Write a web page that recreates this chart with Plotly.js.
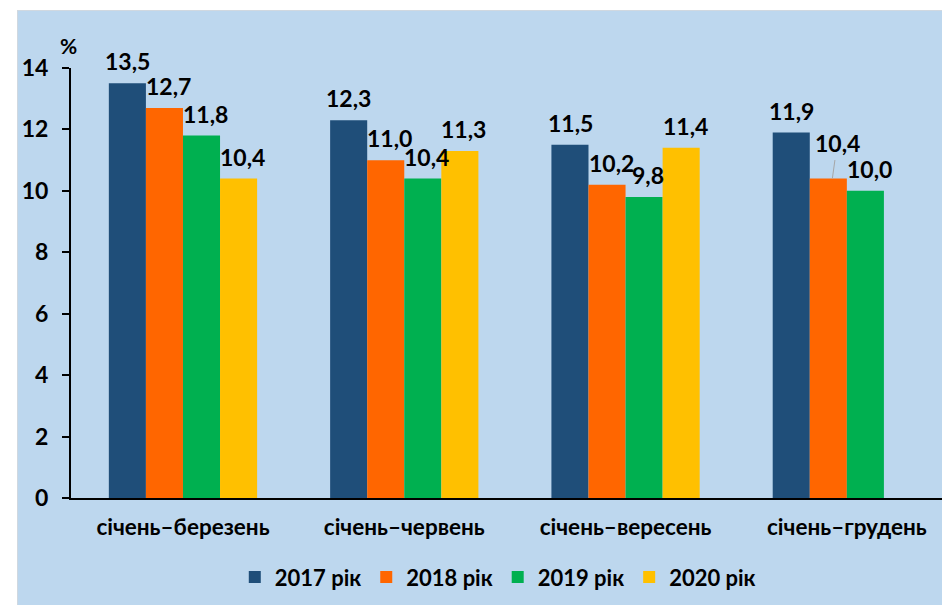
<!DOCTYPE html>
<html><head><meta charset="utf-8">
<script src="https://cdn.plot.ly/plotly-3.0.1.min.js"></script>
<style>
html,body{margin:0;padding:0;background:#fff;}
#bg{position:absolute;left:17px;top:10px;width:924px;height:594px;background:#bdd7ee;border-left:1px solid #d0d8e0;border-top:1px solid #d0d8e0;}
#chart{position:absolute;left:0;top:0;width:942px;height:608px;}
</style></head>
<body>
<div id="bg"></div>
<div id="chart"></div>
<script>
const categories = ["січень–березень","січень–червень","січень–вересень","січень–грудень"];
const seriesNames = ["2017 рік","2018 рік","2019 рік","2020 рік"];
const v2017 = [13.5, 12.3, 11.5, 11.9];
const v2018 = [12.7, 11.0, 10.2, 10.4];
const v2019 = [11.8, 10.4, 9.8, 10.0];
const v2020 = [10.4, 11.3, 11.4, null];
const colors = ["#1f4e79","#ff6600","#00b050","#ffc000"];
const FONT = "Lato, 'Open Sans', sans-serif";
const fmt = v => v.toFixed(1).replace(".", ",");
const all = [v2017, v2018, v2019, v2020];
const traces = all.map((vals, i) => ({
  type: "bar",
  name: seriesNames[i],
  x: categories,
  y: vals,
  marker: {color: colors[i]},
  hoverinfo: "none"
}));

// value labels as annotations, anchored to each bar through the axes
const BAR_PX = 37; // approximate pixel width of one bar
const annotations = [];
all.forEach((vals, i) => {
  vals.forEach((v, j) => {
    if (v == null) return;
    const lifted = (i === 1 && j === 3); // label lifted with a leader line in the original
    const a = {
      x: categories[j], y: v, xref: "x", yref: "y",
      text: fmt(v),
      font: {family: FONT, size: 23, color: "#000", weight: "bold"},
      xshift: (i - 1.5) * BAR_PX + (i === 0 ? 0 : 4)
    };
    if (lifted) {
      Object.assign(a, {showarrow: true, arrowhead: 0, arrowwidth: 1, arrowcolor: "#a6a6a6",
                        ax: 5, ay: -36, standoff: 0, startstandoff: 2, xanchor: "center", yanchor: "middle"});
    } else {
      Object.assign(a, {showarrow: false, yanchor: "bottom", yshift: 6});
    }
    annotations.push(a);
  });
});
annotations.push({text: "%", xref: "paper", yref: "paper", x: -0.003, y: 1.053, xanchor: "center", yanchor: "middle",
                  showarrow: false, font: {family: FONT, size: 21, color: "#000", weight: "bold"}});

const layout = {
  width: 942, height: 608,
  paper_bgcolor: "rgba(0,0,0,0)",
  plot_bgcolor: "rgba(0,0,0,0)",
  margin: {l: 71, r: 0, t: 68, b: 110},
  barmode: "group",
  bargap: 0.33,
  bargroupgap: 0,
  font: {family: FONT, size: 20, color: "#000", weight: "bold"},
  showlegend: true,
  legend: {orientation: "h", x: 0.49, xanchor: "center", y: -0.184, yanchor: "middle",
           font: {family: FONT, size: 22, color: "#000", weight: "bold"}, bgcolor: "rgba(0,0,0,0)", itemwidth: 30},
  xaxis: {type: "category", range: [-0.506, 3.43], showline: true, linecolor: "#000", linewidth: 2,
          ticks: "", ticklabelstandoff: 8, tickfont: {family: FONT, size: 22.5, color: "#000", weight: "bold"},
          showgrid: false, zeroline: false, fixedrange: true},
  yaxis: {range: [0, 14], tickvals: [0,2,4,6,8,10,12,14], showline: true, linecolor: "#000", linewidth: 2,
          ticks: "outside", ticklen: 7, tickwidth: 2, tickcolor: "#000", ticklabelstandoff: 9,
          tickfont: {family: FONT, size: 23, color: "#000", weight: "bold"},
          showgrid: false, zeroline: false, fixedrange: true},
  annotations: annotations
};
Plotly.newPlot("chart", traces, layout, {displayModeBar: false, staticPlot: true});
</script>
</body></html>
